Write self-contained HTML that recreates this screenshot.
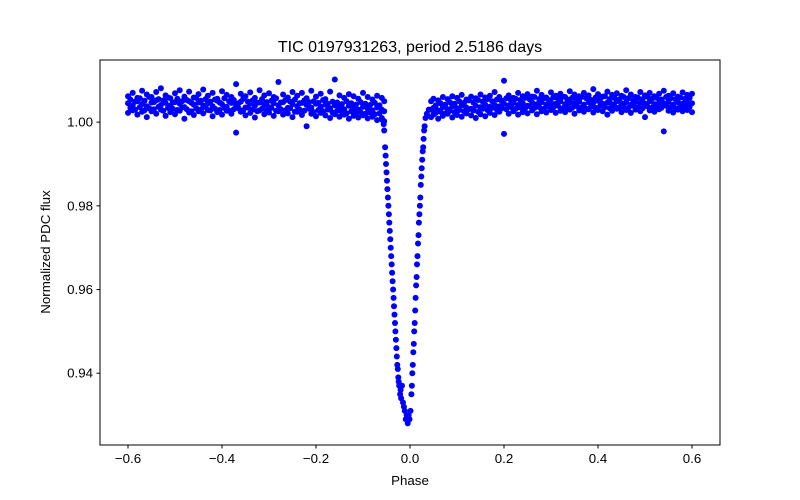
<!DOCTYPE html>
<html><head><meta charset="utf-8"><style>
body{margin:0;background:#fff}
svg{display:block;font-family:"Liberation Sans","DejaVu Sans",sans-serif}
</style></head><body>
<svg id="chart" width="800" height="500" viewBox="0 0 800 500" xmlns="http://www.w3.org/2000/svg">
<rect x="0" y="0" width="800" height="500" fill="#fff"/>
<g id="points"></g>
<rect x="100" y="60" width="620" height="385" fill="none" stroke="#000" stroke-width="1"/>
<g id="axes"></g>
<text x="410" y="52" text-anchor="middle" font-size="16">TIC 0197931263, period 2.5186 days</text>
<text x="410" y="485" text-anchor="middle" font-size="13.3">Phase</text>
<text transform="translate(50,252) rotate(-90)" text-anchor="middle" font-size="13.3">Normalized PDC flux</text>
</svg>
<script>
const xTicks=[-0.6,-0.4,-0.2,0,0.2,0.4,0.6];
const xTickLabels=["\u22120.6","\u22120.4","\u22120.2","0.0","0.2","0.4","0.6"];
const yTicks=[0.94,0.96,0.98,1.00];
const yTickLabels=["0.94","0.96","0.98","1.00"];
const leftPhase=[-0.60,-0.59,-0.58,-0.57,-0.56,-0.55,-0.54,-0.53,-0.52,-0.51,-0.50,-0.49,-0.48,-0.47,-0.46,-0.45,-0.44,-0.43,-0.42,-0.41,-0.40,-0.39,-0.38,-0.37,-0.36,-0.35,-0.34,-0.33,-0.32,-0.31,-0.30,-0.29,-0.28,-0.27,-0.26,-0.25,-0.24,-0.23,-0.22,-0.21,-0.20,-0.19,-0.18,-0.17,-0.16,-0.15,-0.14,-0.13,-0.12,-0.11,-0.10,-0.09,-0.08,-0.07,-0.06,-0.055];
const leftUpper=[1.0062,1.0070,1.0058,1.0075,1.0066,1.0060,1.0072,1.0081,1.0064,1.0057,1.0069,1.0076,1.0061,1.0073,1.0059,1.0067,1.0078,1.0063,1.0070,1.0056,1.0074,1.0065,1.0060,1.0091,1.0068,1.0062,1.0071,1.0058,1.0076,1.0064,1.0069,1.0060,1.0096,1.0066,1.0059,1.0072,1.0063,1.0070,1.0057,1.0075,1.0061,1.0068,1.0055,1.0073,1.0102,1.0064,1.0058,1.0067,1.0062,1.0056,1.0070,1.0060,1.0054,1.0063,1.0058,1.0050];
const leftMid=[1.0045,1.0040,1.0050,1.0043,1.0038,1.0047,1.0052,1.0041,1.0046,1.0039,1.0048,1.0044,1.0036,1.0050,1.0042,1.0047,1.0040,1.0045,1.0038,1.0051,1.0043,1.0037,1.0046,1.0041,1.0049,1.0035,1.0044,1.0039,1.0047,1.0042,1.0036,1.0045,1.0040,1.0048,1.0034,1.0043,1.0038,1.0046,1.0041,1.0035,1.0044,1.0037,1.0042,1.0033,1.0040,1.0036,1.0031,1.0039,1.0034,1.0030,1.0037,1.0032,1.0028,1.0035,1.0030,1.0026];
const leftLower=[1.0022,1.0028,1.0018,1.0025,1.0012,1.0026,1.0020,1.0030,1.0015,1.0024,1.0019,1.0027,1.0008,1.0023,1.0017,1.0026,1.0021,1.0029,1.0014,1.0024,1.0018,1.0027,1.0020,0.9975,1.0025,1.0016,1.0022,1.0011,1.0028,1.0019,1.0023,1.0015,1.0026,1.0018,1.0021,1.0012,1.0025,1.0017,0.9990,1.0020,1.0014,1.0022,1.0016,1.0010,1.0019,1.0013,1.0018,1.0008,1.0015,1.0011,1.0016,1.0009,1.0013,1.0005,1.0010,1.0002];
const leftPhase2=[-0.595,-0.585,-0.575,-0.565,-0.555,-0.545,-0.535,-0.525,-0.515,-0.505,-0.495,-0.485,-0.475,-0.465,-0.455,-0.445,-0.435,-0.425,-0.415,-0.405,-0.395,-0.385,-0.375,-0.365,-0.355,-0.345,-0.335,-0.325,-0.315,-0.305,-0.295,-0.285,-0.275,-0.265,-0.255,-0.245,-0.235,-0.225,-0.215,-0.205,-0.195,-0.185,-0.175,-0.165,-0.155,-0.145,-0.135,-0.125,-0.115,-0.105,-0.095,-0.085,-0.075,-0.065];
const leftHigh2=[1.0054,1.0049,1.0057,1.0051,1.0060,1.0048,1.0055,1.0052,1.0059,1.0047,1.0056,1.0050,1.0053,1.0046,1.0058,1.0051,1.0055,1.0049,1.0054,1.0047,1.0057,1.0050,1.0053,1.0045,1.0056,1.0049,1.0052,1.0046,1.0055,1.0048,1.0051,1.0057,1.0047,1.0053,1.0049,1.0054,1.0045,1.0052,1.0048,1.0050,1.0046,1.0053,1.0044,1.0049,1.0047,1.0043,1.0050,1.0045,1.0042,1.0048,1.0044,1.0041,1.0046,1.0040];
const leftLow2=[1.0034,1.0030,1.0036,1.0028,1.0033,1.0031,1.0037,1.0027,1.0034,1.0032,1.0029,1.0035,1.0031,1.0026,1.0033,1.0030,1.0036,1.0028,1.0032,1.0029,1.0034,1.0027,1.0031,1.0033,1.0028,1.0035,1.0030,1.0026,1.0032,1.0029,1.0034,1.0027,1.0031,1.0028,1.0033,1.0025,1.0030,1.0027,1.0032,1.0024,1.0029,1.0026,1.0030,1.0023,1.0027,1.0025,1.0021,1.0026,1.0022,1.0024,1.0020,1.0023,1.0019,1.0021];
const rightPhase=[0.045,0.05,0.06,0.07,0.08,0.09,0.10,0.11,0.12,0.13,0.14,0.15,0.16,0.17,0.18,0.19,0.20,0.21,0.22,0.23,0.24,0.25,0.26,0.27,0.28,0.29,0.30,0.31,0.32,0.33,0.34,0.35,0.36,0.37,0.38,0.39,0.40,0.41,0.42,0.43,0.44,0.45,0.46,0.47,0.48,0.49,0.50,0.51,0.52,0.53,0.54,0.55,0.56,0.57,0.58,0.59,0.60];
const rightUpper=[1.0050,1.0056,1.0052,1.0060,1.0055,1.0062,1.0058,1.0065,1.0054,1.0061,1.0057,1.0066,1.0059,1.0063,1.0072,1.0060,1.0099,1.0064,1.0058,1.0070,1.0062,1.0067,1.0061,1.0075,1.0065,1.0059,1.0071,1.0063,1.0068,1.0060,1.0074,1.0066,1.0062,1.0070,1.0064,1.0079,1.0067,1.0061,1.0073,1.0065,1.0069,1.0063,1.0076,1.0066,1.0060,1.0072,1.0064,1.0070,1.0062,1.0068,1.0075,1.0063,1.0069,1.0061,1.0071,1.0065,1.0068];
const rightMid=[1.0030,1.0034,1.0028,1.0036,1.0031,1.0038,1.0033,1.0040,1.0035,1.0032,1.0039,1.0036,1.0042,1.0037,1.0041,1.0038,1.0044,1.0040,1.0046,1.0041,1.0045,1.0039,1.0047,1.0043,1.0048,1.0042,1.0046,1.0044,1.0050,1.0043,1.0047,1.0045,1.0049,1.0042,1.0048,1.0046,1.0051,1.0044,1.0047,1.0043,1.0050,1.0045,1.0048,1.0042,1.0049,1.0046,1.0044,1.0050,1.0043,1.0047,1.0045,1.0049,1.0042,1.0048,1.0044,1.0046,1.0045];
const rightLower=[1.0012,1.0018,1.0008,1.0015,1.0020,1.0011,1.0017,1.0013,1.0021,1.0016,1.0010,1.0019,1.0014,1.0022,1.0017,1.0025,0.9972,1.0020,1.0026,1.0018,1.0024,1.0021,1.0028,1.0019,1.0026,1.0023,1.0029,1.0022,1.0027,1.0024,1.0030,1.0020,1.0028,1.0025,1.0031,1.0023,1.0029,1.0026,1.0018,1.0027,1.0032,1.0024,1.0029,1.0022,1.0030,1.0026,1.0012,1.0028,1.0025,1.0031,0.9978,1.0027,1.0023,1.0030,1.0026,1.0029,1.0024];
const rightPhase2=[0.055,0.065,0.075,0.085,0.095,0.105,0.115,0.125,0.135,0.145,0.155,0.165,0.175,0.185,0.195,0.205,0.215,0.225,0.235,0.245,0.255,0.265,0.275,0.285,0.295,0.305,0.315,0.325,0.335,0.345,0.355,0.365,0.375,0.385,0.395,0.405,0.415,0.425,0.435,0.445,0.455,0.465,0.475,0.485,0.495,0.505,0.515,0.525,0.535,0.545,0.555,0.565,0.575,0.585,0.595];
const rightHigh2=[1.0040,1.0045,1.0042,1.0048,1.0044,1.0050,1.0046,1.0052,1.0047,1.0053,1.0049,1.0055,1.0050,1.0054,1.0051,1.0057,1.0052,1.0056,1.0053,1.0058,1.0054,1.0060,1.0055,1.0057,1.0053,1.0059,1.0056,1.0061,1.0054,1.0058,1.0055,1.0060,1.0057,1.0053,1.0059,1.0056,1.0062,1.0055,1.0058,1.0054,1.0060,1.0057,1.0053,1.0059,1.0055,1.0061,1.0056,1.0058,1.0054,1.0060,1.0057,1.0055,1.0059,1.0056,1.0058];
const rightLow2=[1.0022,1.0025,1.0021,1.0027,1.0024,1.0029,1.0026,1.0031,1.0028,1.0025,1.0032,1.0029,1.0034,1.0030,1.0033,1.0031,1.0036,1.0032,1.0035,1.0033,1.0038,1.0034,1.0036,1.0032,1.0037,1.0035,1.0039,1.0033,1.0036,1.0034,1.0038,1.0035,1.0032,1.0037,1.0034,1.0039,1.0036,1.0033,1.0038,1.0035,1.0037,1.0034,1.0039,1.0036,1.0033,1.0038,1.0035,1.0037,1.0034,1.0039,1.0036,1.0033,1.0038,1.0035,1.0037];
const transitPhase=[-0.058,-0.055,-0.053,-0.051,-0.049,-0.047,-0.045,-0.043,-0.041,-0.039,-0.037,-0.035,-0.033,-0.031,-0.029,-0.027,-0.025,-0.023,-0.021,-0.019,-0.017,-0.015,-0.013,-0.011,-0.009,-0.007,-0.005,-0.003,-0.001,0.001,0.003,0.005,0.007,0.009,0.011,0.013,0.015,0.017,0.019,0.021,0.023,0.025,0.027,0.029,0.031,0.033,0.036,0.040,
-0.056,-0.052,-0.050,-0.048,-0.046,-0.044,-0.042,-0.040,-0.038,-0.036,-0.034,-0.032,-0.030,-0.028,-0.026,-0.024,-0.020,0.004,0.006,0.008,0.010,0.012,0.014,0.016,0.018,0.020,0.022,0.024,0.026,0.028,0.030];
const transitFlux=[1.0005,0.998,0.994,0.990,0.986,0.982,0.978,0.974,0.970,0.966,0.962,0.958,0.954,0.950,0.946,0.942,0.939,0.937,0.935,0.934,0.937,0.933,0.932,0.931,0.929,0.930,0.928,0.930,0.929,0.931,0.935,0.940,0.945,0.950,0.955,0.961,0.966,0.971,0.976,0.980,0.985,0.989,0.993,0.996,0.999,1.001,1.002,1.003,
0.9995,0.992,0.988,0.984,0.980,0.976,0.972,0.968,0.964,0.960,0.956,0.952,0.948,0.944,0.941,0.938,0.936,0.937,0.942,0.947,0.952,0.958,0.963,0.968,0.973,0.978,0.982,0.987,0.991,0.994,0.998];

const X0=100,X1=720,Y0=60,Y1=445;
const xMin=-0.6596,xMax=0.6596,yMin=0.92285,yMax=1.01485;
function sx(v){return X0+(v-xMin)/(xMax-xMin)*(X1-X0);}
function sy(v){return Y1-(v-yMin)/(yMax-yMin)*(Y1-Y0);}
const NS="http://www.w3.org/2000/svg";
const pts=document.getElementById('points');
function dot(p,f){
  const c=document.createElementNS(NS,'circle');
  c.setAttribute('cx',sx(p).toFixed(1));c.setAttribute('cy',sy(f).toFixed(1));
  c.setAttribute('r','3');c.setAttribute('fill','#0000ff');
  
  
  pts.appendChild(c);
}
[[leftPhase,[leftUpper,leftMid,leftLower]],[leftPhase2,[leftHigh2,leftLow2]],[rightPhase,[rightUpper,rightMid,rightLower]],[rightPhase2,[rightHigh2,rightLow2]]].forEach(([ph,rows])=>{
  rows.forEach(r=>{const n=Math.min(ph.length,r.length);for(let i=0;i<n;i++)dot(ph[i],r[i]);});
});
for(let i=0;i<Math.min(transitPhase.length,transitFlux.length);i++)dot(transitPhase[i],transitFlux[i]);

const ax=document.getElementById('axes');
function el(tag,attrs,txt){const e=document.createElementNS(NS,tag);for(const k in attrs)e.setAttribute(k,attrs[k]);if(txt!==undefined)e.textContent=txt;ax.appendChild(e);return e;}
xTicks.forEach((t,i)=>{
  const x=sx(t);
  const l=el('line',{x1:x,x2:x,y1:Y1,y2:Y1+3.5,stroke:'#000','stroke-width':1});
  
  
  const s=el('text',{x:x,y:Y1+18,'text-anchor':'middle','font-size':13.3},xTickLabels[i]);
  
  
});
yTicks.forEach((t,i)=>{
  const y=sy(t);
  const l=el('line',{x1:X0-3.5,x2:X0,y1:y,y2:y,stroke:'#000','stroke-width':1});
  
  
  const s=el('text',{x:X0-7,y:y+4.5,'text-anchor':'end','font-size':13.3},yTickLabels[i]);
  
  
});
</script>
</body></html>
